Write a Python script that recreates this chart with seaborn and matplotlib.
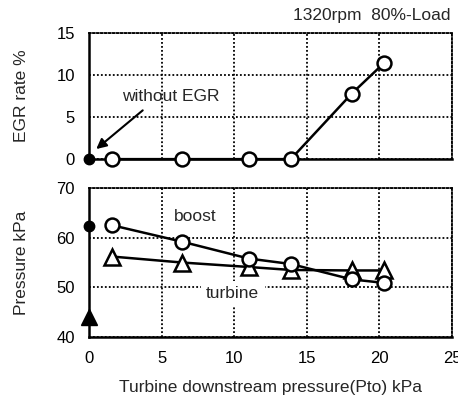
import matplotlib
matplotlib.use("Agg")
import matplotlib.pyplot as plt
import seaborn as sns
import pandas as pd

sns.set_theme(style="white")
plt.rcParams['font.family'] = ['Liberation Sans', 'DejaVu Sans']

# Turbine downstream pressure (kPa) for each operating point
pto = [1.6, 6.4, 11.0, 13.9, 18.1, 20.3]
egr_rate = [0.0, 0.0, 0.0, 0.0, 7.8, 11.4]
boost_p = [62.5, 59.2, 55.8, 54.7, 51.6, 50.9]
turbine_p = [56.2, 55.0, 54.1, 53.5, 53.4, 53.4]

# Reference point without EGR (Pto = 0)
ref_pto = [0.0]
ref_egr = [0.0]
ref_boost = [62.3]
ref_turbine = [44.0]

x_ticks = [0, 5, 10, 15, 20, 25]
egr_ticks = [0, 5, 10, 15]
p_ticks = [40, 50, 60, 70]

df = pd.DataFrame({"pto": pto, "egr": egr_rate, "boost": boost_p, "turbine": turbine_p})

fig = plt.figure(figsize=(4.58, 4.07), dpi=100)
ax1 = fig.add_axes([0.1943, 0.609, 0.7927, 0.310])
ax2 = fig.add_axes([0.1943, 0.172, 0.7927, 0.366])

grid_kw = dict(color="black", linestyle=(0, (1, 1.2)), linewidth=1.3)
line_kw = dict(color="black", linewidth=1.8)
open_kw = dict(markerfacecolor="white", markeredgecolor="black", markeredgewidth=1.8)

for ax in (ax1, ax2):
    ax.set_xlim(0, 25)
    ax.set_xticks(x_ticks)
    ax.grid(True, **grid_kw)
    ax.set_axisbelow(True)
    for side in ("top", "right"):
        ax.spines[side].set_linestyle((0, (1, 1.2)))
        ax.spines[side].set_linewidth(1.3)
        ax.spines[side].set_color("black")
    for side in ("left", "bottom"):
        ax.spines[side].set_linewidth(1.8)
        ax.spines[side].set_color("black")
    ax.tick_params(axis="both", labelsize=12, colors="black")
    ax.tick_params(axis="y", direction="in", length=14, width=1.8, pad=10)

# EGR rate panel
ax1.set_ylim(0, 15)
ax1.set_yticks(egr_ticks)
ax1.tick_params(axis="x", bottom=False, labelbottom=False)
sns.lineplot(data=df, x="pto", y="egr", ax=ax1, marker="o", markersize=10,
             clip_on=False, zorder=5, **line_kw, **open_kw)
ax1.plot(ref_pto, ref_egr, marker="o", markersize=7.5, color="black",
         linestyle="none", clip_on=False, zorder=6)
ax1.set_xlabel("")
ax1.set_ylabel("EGR rate %", fontsize=12.5)
ax1.yaxis.set_label_coords(-0.165, 0.5)
ax1.text(5.6, 7.5, "without EGR", fontsize=12.5, ha="center", va="center")
ax1.annotate("", xy=(0.5, 1.2), xytext=(3.7, 5.8),
             arrowprops=dict(arrowstyle="-|>", color="black", lw=1.5,
                             mutation_scale=15, shrinkA=0, shrinkB=0))
fig.text(0.983, 0.962, "1320rpm  80%-Load", ha="right", va="center", fontsize=12.5)

# Pressure panel
ax2.set_ylim(40, 70)
ax2.set_yticks(p_ticks)
ax2.tick_params(axis="x", direction="in", length=11, width=1.8, pad=10)
sns.lineplot(data=df, x="pto", y="boost", ax=ax2, marker="o", markersize=10,
             clip_on=False, zorder=5, **line_kw, **open_kw)
sns.lineplot(data=df, x="pto", y="turbine", ax=ax2, marker="^", markersize=12,
             clip_on=False, zorder=4, **line_kw, **open_kw)
ax2.plot(ref_pto, ref_boost, marker="o", markersize=7.5, color="black",
         linestyle="none", clip_on=False, zorder=6)
ax2.plot(ref_pto, ref_turbine, marker="^", markersize=11, color="black",
         linestyle="none", clip_on=False, zorder=6)
ax2.text(7.3, 64.3, "boost", fontsize=12.5, ha="center", va="center")
ax2.text(9.9, 48.7, "turbine", fontsize=12.5, ha="center", va="center",
         bbox=dict(facecolor="white", edgecolor="none", pad=4), zorder=3)
ax2.set_ylabel("Pressure kPa", fontsize=12.5)
ax2.yaxis.set_label_coords(-0.165, 0.5)
ax2.set_xlabel("Turbine downstream pressure(Pto) kPa", fontsize=12.5, labelpad=10)

fig.savefig("out.png", dpi=100)
